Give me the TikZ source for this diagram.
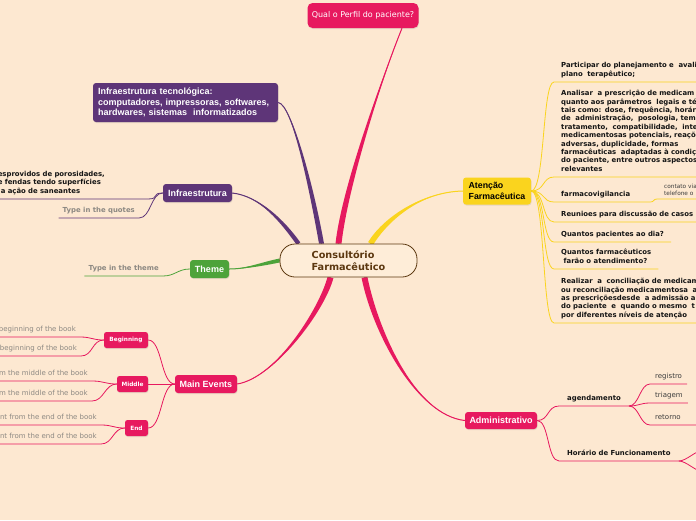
\documentclass[tikz,border=0pt]{standalone}
\usepackage{fontspec}
\setmainfont{DejaVu Sans}
\newfontfamily\boxfont{Liberation Sans}
\usetikzlibrary{calc}
\usetikzlibrary{shadows}
\pgfdeclarelayer{back}
\pgfsetlayers{back,main}
\definecolor{bgpeach}{RGB}{253,232,209}
\definecolor{centfill}{RGB}{254,237,216}
\definecolor{mmpink}{RGB}{231,25,95}
\definecolor{mmpurple}{RGB}{94,53,120}
\definecolor{mmgreen}{RGB}{77,163,58}
\definecolor{mmyellow}{RGB}{250,212,30}
\definecolor{mmbrown}{RGB}{92,56,16}
\definecolor{mmgrey}{RGB}{140,136,130}
\definecolor{txtdark}{RGB}{20,20,20}
\definecolor{txtleaf}{RGB}{60,60,60}
% tapered main branch: colour, start, control 1, control 2, end, half width
\newcommand{\branch}[6]{\fill[#1] ($(#2)+(#6)$) .. controls ($(#3)+(#6)$) and (#4) .. (#5) .. controls (#4) and ($(#3)-(#6)$) .. ($(#2)-(#6)$) -- cycle; \draw[#1, line width=1pt] (#2) .. controls (#3) and (#4) .. (#5);}

\begin{document}
\begin{tikzpicture}[x=1pt,y=-1pt,
    topic/.style={rounded corners=3pt, inner sep=0pt, text=white, font=\boxfont\bfseries\fontsize{9}{10.5}\selectfont, drop shadow={opacity=0.18,shadow xshift=0.5pt,shadow yshift=-1pt}},
    smalltopic/.style={topic, rounded corners=2.5pt, font=\bfseries\fontsize{5.8}{7}\selectfont},
    rsub/.style={anchor=south west, inner xsep=7pt, inner ysep=3pt, align=left, text=txtdark, font=\bfseries\fontsize{6.9}{8.4}\selectfont, execute at end node=\strut},
    lsub/.style={rsub, anchor=south east, inner xsep=4pt},
    quotetxt/.style={lsub, text=mmgrey},
    event/.style={lsub, text=mmgrey, font=\fontsize{7}{8.4}\selectfont},
    leaf/.style={rsub, inner xsep=5pt, text=txtleaf, font=\fontsize{7}{8.4}\selectfont},
    conn/.style={line width=0.8pt}]
    \useasboundingbox (0,0) rectangle (696,520);
    % centre and main topics
    \node[draw=mmbrown, line width=0.8pt, fill=centfill, rounded corners=15pt, minimum width=137pt, minimum height=33pt, align=left, text=mmbrown, font=\bfseries\fontsize{9.7}{12}\selectfont] (cent) at (348.5,260.5) {Consultório\\Farmacêutico};
    \node[topic, fill=mmpink, minimum width=111pt, minimum height=25pt, rounded corners=5pt, font=\fontsize{8}{9}\selectfont] (perf) at (363,15.5) {Qual o Perfil do paciente?};
    \node[topic, fill=mmpurple, minimum width=185pt, minimum height=39pt, text width=175pt, align=left] (infT) at (185.5,102.5) {Infraestrutura tecnológica:\\computadores, impressoras, softwares,\\hardwares, sistemas~ informatizados};
    \node[topic, fill=mmpurple, minimum width=69pt, minimum height=18pt] (infra) at (197.5,193) {Infraestrutura};
    \node[topic, fill=mmgreen, minimum width=39pt, minimum height=18pt] (theme) at (209.5,269) {Theme};
    \node[topic, fill=mmpink, minimum width=62pt, minimum height=18pt] (evts) at (206,384) {Main Events};
    \node[smalltopic, fill=mmpink, minimum width=44pt, minimum height=16pt] (beg) at (126,340) {Beginning};
    \node[smalltopic, fill=mmpink, minimum width=31pt, minimum height=16pt] (mid) at (132.5,384) {Middle};
    \node[smalltopic, fill=mmpink, minimum width=23pt, minimum height=16pt] (fin) at (136.5,428) {End};
    \node[topic, fill=mmpink, minimum width=72pt, minimum height=17pt] (adm) at (501,420.5) {Administrativo};
    \node[topic, fill=mmyellow, text=black, minimum width=68pt, minimum height=27pt, align=left, font=\boxfont\bfseries\fontsize{8.8}{11}\selectfont] (aten) at (497,191) {Atenção\\Farmacêutica};
    % atencao
    \node[rsub, text width=160pt] (plan) at (554,82) {Participar do planejamento e~ avali\\plano~ terapêutico;};
    \node[rsub, text width=160pt] (presc) at (554,177) {Analisar~ a prescrição de medicam\\quanto aos parâmetros~ legais e té\\tais como: dose, frequência, horár\\de~ administração,~ posologia, tem\\tratamento,~ compatibilidade,~ inte\\medicamentosas potenciais, reaçõ\\adversas, duplicidade, formas\\farmacêuticas~ adaptadas à condiç\\do paciente, entre outros aspectos\\relevantes};
    \node[rsub, text width=82pt] (farm) at (554,202) {farmacovigilancia};
    \node[rsub, inner ysep=1.5pt, text=txtleaf, font=\fontsize{5.8}{7}\selectfont, text width=40pt] (cont) at (657,199) {contato via\\telefone o};
    \node[rsub, text width=160pt] (reun) at (554,222) {Reunioes para discussão de casos};
    \node[rsub] (qpac) at (554,242) {Quantos pacientes ao dia?};
    \node[rsub] (qfar) at (554,269) {Quantos farmacêuticos\\\hspace*{2.4pt}farão o atendimento?};
    \node[rsub, text width=160pt] (conc) at (554,323) {Realizar~ a~ conciliação de medicam\\ou reconciliação medicamentosa~ a\\as prescriçõesdesde~ a admissão a\\do paciente~ e~ quando o mesmo~ t\\por diferentes níveis de atenção};
    % administrativo
    \node[rsub, inner xsep=8pt] (agen) at (559,406) {agendamento};
    \node[rsub, inner xsep=8pt] (hora) at (559,461) {Horário de Funcionamento};
    \node[leaf] (reg) at (650,384) {registro};
    \node[leaf] (tri) at (650,403) {triagem};
    \node[leaf, text width=36pt] (ret) at (650,425) {retorno};
    \coordinate (horA) at (704,450);
    \coordinate (horB) at (704,472);
    % left side
    \node[lsub, text width=150pt, inner xsep=0pt] (clean) at (148,199) {esprovidos de porosidades,\\e fendas tendo superfícies\\\hspace*{3pt}a ação de saneantes};
    \node[quotetxt] (quot) at (139,218) {Type in the quotes};
    \node[quotetxt] (ttheme) at (163,276) {Type in the theme};
    \node[event] (b1) at (80,337) {beginning of the book};
    \node[event] (b2) at (81,356) {beginning of the book};
    \node[event] (m1) at (92,381) {m the middle of the book};
    \node[event] (m2) at (92,401) {m the middle of the book};
    \node[event] (e1) at (101,425) {nt from the end of the book};
    \node[event] (e2) at (101,444) {nt from the end of the book};

    \begin{pgfonlayer}{back}
    \fill[bgpeach] (0,0) rectangle (696,520);
    % main branches
    \coordinate (sPerf) at ($(cent.north)+(-10,0)$);
    \coordinate (sInfT) at ($(cent.north)+(-27,0)$);
    \coordinate (sInfra) at ($(cent.north)+(-50,0)$);
    \coordinate (sAten) at ($(cent.north)+(22,0)$);
    \coordinate (sEvts) at ($(cent.south)+(-18,0)$);
    \coordinate (sAdm) at ($(cent.south)+(16,0)$);
    \coordinate (ePerf) at ($(perf.south)+(39,0)$);
    \branch{mmpink}{sPerf}{345,185}{385,70}{ePerf}{3,0}
    \branch{mmpurple}{sInfT}{312,190}{292,104}{infT.east}{2.5,0}
    \branch{mmpurple}{sInfra}{283,222}{260,196}{infra.east}{1.8,-1.2}
    \branch{mmgreen}{cent.west}{262,264}{245,269}{theme.east}{0,2}
    \branch{mmpink}{sEvts}{322,310}{275,378}{evts.east}{2.9,0.7}
    \branch{mmpink}{sAdm}{375,330}{415,415}{adm.west}{2.9,-0.6}
    \branch{mmyellow}{sAten}{385,220}{420,192}{aten.west}{2.4,1.5}
    % sub topics
    \foreach \n in {plan,presc,farm,reun,qpac,qfar,conc}
        \draw[conn, mmyellow] (aten.east) .. controls +(14,0) and +(-12,0) .. (\n.south west) -- (\n.south east);
    \draw[conn, mmyellow] (farm.south east) .. controls +(4,0) and +(-4,0) .. (cont.south west) -- (cont.south east);
    \foreach \n in {agen,hora}
        \draw[conn, mmpink] (adm.east) .. controls +(12,0) and +(-12,0) .. (\n.south west) -- (\n.south east);
    \foreach \n in {reg,tri,ret}
        \draw[conn, mmpink] (agen.south east) .. controls +(10,0) and +(-10,0) .. (\n.south west) -- (\n.south east);
    \foreach \n in {horA,horB}
        \draw[conn, mmpink] (hora.south east) .. controls +(8,0) and +(-8,0) .. (\n);
    \foreach \n in {clean,quot}
        \draw[conn, mmpurple] (infra.west) .. controls +(-12,0) and +(12,0) .. (\n.south east) -- (\n.south west);
    \draw[conn, mmgreen] (theme.west) .. controls +(-12,0) and +(12,0) .. (ttheme.south east) -- (ttheme.south west);
    \foreach \n in {beg,mid,fin}
        \draw[conn, mmpink] (evts.west) .. controls +(-14,0) and +(14,0) .. (\n.east);
    \foreach \evp/\evx/\evy in {beg/b1/b2,mid/m1/m2,fin/e1/e2} {
        \draw[conn, mmpink] (\evp.west) .. controls +(-12,0) and +(12,0) .. (\evx.south east) -- (\evx.south west);
        \draw[conn, mmpink] (\evp.west) .. controls +(-12,0) and +(12,0) .. (\evy.south east) -- (\evy.south west);
    }
    \end{pgfonlayer}
\end{tikzpicture}
\end{document}
